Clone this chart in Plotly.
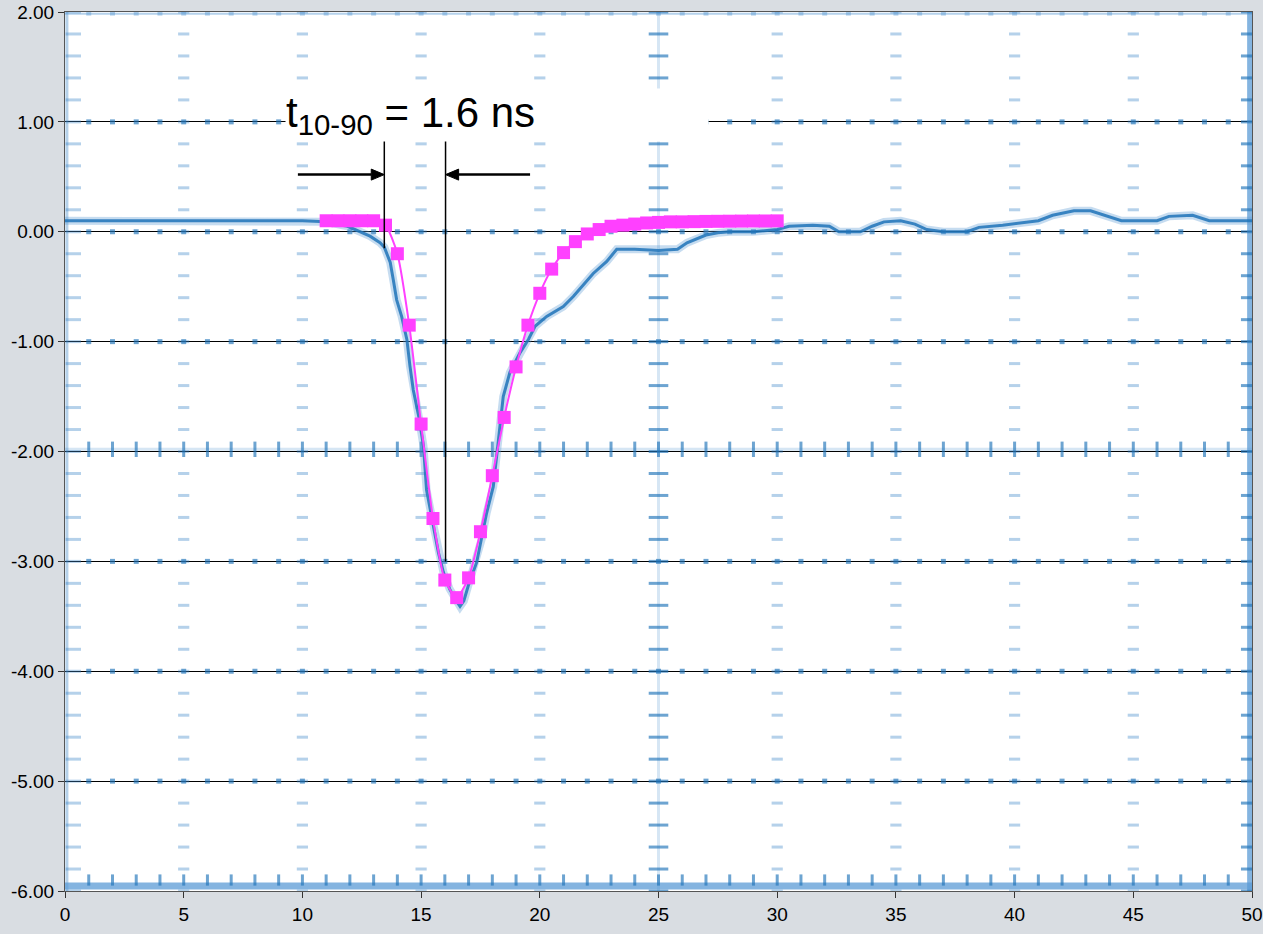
import numpy as np
import plotly.graph_objects as go

# Oscilloscope capture of the pulse (time in ns, amplitude in V)
scope_t = [0, 2, 4, 6, 8, 10, 11, 11.9, 12.85, 13.27, 13.45, 13.7, 13.83, 13.97,
           14.18, 14.4, 14.53, 14.67, 14.9, 15.1, 15.23, 15.5, 15.73, 15.94, 16.2,
           16.45, 16.64, 16.8, 16.99, 17.34, 17.55, 17.76, 18.04, 18.25, 18.46,
           18.74, 19.17, 19.52, 19.8, 20.29, 20.99, 21.41, 21.76, 22.25, 22.82,
           23.24, 24, 25, 25.8, 26.2, 27, 27.5, 28, 29, 30, 30.5, 31.5, 32.2, 32.6,
           33.5, 34, 34.5, 35.2, 35.8, 36.3, 37, 38, 38.5, 39.5, 40.3, 41, 41.6,
           42.5, 43.2, 43.8, 44.5, 46, 46.5, 47.5, 48.2, 49, 50]
scope_v = [0.1, 0.1, 0.1, 0.1, 0.1, 0.1, 0.09, 0.05, -0.04, -0.1, -0.14, -0.28,
           -0.44, -0.62, -0.77, -0.98, -1.22, -1.44, -1.68, -1.95, -2.35, -2.65,
           -2.92, -3.1, -3.25, -3.35, -3.41, -3.36, -3.22, -3.01, -2.8, -2.56,
           -2.32, -1.9, -1.5, -1.28, -1.1, -0.98, -0.86, -0.77, -0.68, -0.59, -0.5,
           -0.38, -0.27, -0.16, -0.16, -0.17, -0.16, -0.1, -0.03, -0.01, 0.0, 0.0,
           0.02, 0.05, 0.06, 0.05, 0.0, 0.0, 0.05, 0.09, 0.1, 0.07, 0.02, 0.0, 0.0,
           0.04, 0.06, 0.08, 0.1, 0.15, 0.19, 0.19, 0.15, 0.1, 0.1, 0.14, 0.15,
           0.1, 0.1, 0.1]

# Model pulse sampled every 0.5 ns
fit_t = [11, 11.5, 12, 12.5, 13, 13.5, 14, 14.5, 15, 15.5, 16, 16.5, 17, 17.5,
         18, 18.5, 19, 19.5, 20, 20.5, 21, 21.5, 22, 22.5, 23, 23.5, 24, 24.5,
         25, 25.5, 26, 26.5, 27, 27.5, 28, 28.5, 29, 29.5, 30]
fit_v = [0.1, 0.1, 0.1, 0.1, 0.1, 0.06, -0.2, -0.85, -1.75, -2.61, -3.17, -3.33,
         -3.15, -2.73, -2.22, -1.69, -1.23, -0.85, -0.56, -0.34, -0.19, -0.09,
         -0.02, 0.02, 0.05, 0.06, 0.07, 0.08, 0.085, 0.09, 0.09, 0.092, 0.094,
         0.095, 0.096, 0.097, 0.098, 0.098, 0.099]

x_ticks = [0, 5, 10, 15, 20, 25, 30, 35, 40, 45, 50]
y_ticks = [-6, -5, -4, -3, -2, -1, 0, 1, 2]

# Rise-time cursors
cursor_t = [13.45, 16.03]
cursor_top = 0.85
cursor_bottom = [-0.15, -3.0]
arrow_level = 0.52
arrow_tails = [9.81, 19.59]

PINK = "#FF40FF"
fig = go.Figure()

# --- scope graticule (background) ---
GR = "rgba(60,135,200,0.38)"
GR_DARK = "rgba(30,115,185,0.65)"
GR_FAINT = "rgba(91,155,213,0.25)"
fine_y = [v for v in np.round(np.arange(-6, 2.001, 0.2), 2)]
unit_x = list(range(1, 50))


def add(**kw):
    kw.setdefault("hoverinfo", "skip")
    kw.setdefault("showlegend", False)
    fig.add_trace(go.Scatter(**kw))


# vertical dotted graticule lines
for gx in [5, 10, 15, 20, 30, 35, 40, 45]:
    add(x=[gx] * len(fine_y), y=fine_y, mode="markers",
        marker=dict(symbol="line-ew", size=8, line=dict(width=3, color=GR)))
# centre vertical line
add(x=[25, 25], y=[-6, 2], mode="lines", line=dict(color=GR_FAINT, width=3))
add(x=[25] * len(fine_y), y=fine_y, mode="markers",
    marker=dict(symbol="line-ew", size=14, line=dict(width=3, color=GR_DARK)))
# horizontal dotted graticule lines
for gy in [1, 0, -1, -3, -4, -5]:
    add(x=unit_x, y=[gy] * len(unit_x), mode="markers",
        marker=dict(symbol="square", size=5, color=GR_DARK, line=dict(width=0)))
add(x=unit_x, y=[1.99] * len(unit_x), mode="markers",
    marker=dict(symbol="square", size=5, color=GR, line=dict(width=0)))
# centre horizontal line
add(x=[0, 50], y=[-1.98, -1.98], mode="lines", line=dict(color=GR_FAINT, width=3))
add(x=unit_x, y=[-1.98] * len(unit_x), mode="markers",
    marker=dict(symbol="line-ns", size=11, line=dict(width=3, color=GR_DARK)))
# screen edges
add(x=[0.08, 0.08], y=[-6, 2], mode="lines", line=dict(color=GR, width=3))
add(x=[0.35] * len(fine_y), y=fine_y, mode="markers",
    marker=dict(symbol="line-ew", size=11, line=dict(width=3, color=GR)))
add(x=[49.9, 49.9], y=[-6, 2], mode="lines",
    line=dict(color="rgba(91,155,213,0.75)", width=5))
add(x=[49.8] * len(fine_y), y=fine_y, mode="markers",
    marker=dict(symbol="line-ew", size=9, line=dict(width=3, color=GR_DARK)))
add(x=[0, 50], y=[-5.955, -5.955], mode="lines",
    line=dict(color="rgba(91,155,213,0.75)", width=7))
add(x=unit_x, y=[-5.9] * len(unit_x), mode="markers",
    marker=dict(symbol="line-ns", size=8, line=dict(width=3, color=GR_DARK)))
add(x=[0, 50], y=[1.985, 1.985], mode="lines",
    line=dict(color="rgba(91,155,213,0.45)", width=2))

# --- captured waveform ---
add(x=scope_t, y=scope_v, mode="lines",
    line=dict(color="rgba(91,155,213,0.35)", width=8))
add(x=scope_t, y=scope_v, mode="lines",
    line=dict(color="rgba(30,115,185,0.85)", width=3))

# --- model pulse ---
add(x=fit_t, y=fit_v, mode="lines+markers",
    line=dict(color=PINK, width=2, shape="spline", smoothing=0.6),
    marker=dict(symbol="square", size=13, color=PINK, line=dict(width=0)))

# cursors
for ct, cb in zip(cursor_t, cursor_bottom):
    fig.add_shape(type="line", x0=ct, x1=ct, y0=cursor_top, y1=cb,
                  line=dict(color="black", width=1.5), layer="above")

# arrows pointing at the cursors: shaft plus a filled triangular head
HEAD_LEN = 0.55   # ns
HEAD_HALF = 0.05  # V
for ct, tail in zip(cursor_t, arrow_tails):
    direction = 1 if tail < ct else -1
    base = ct - direction * HEAD_LEN
    fig.add_shape(type="line", x0=tail, x1=base, y0=arrow_level, y1=arrow_level,
                  line=dict(color="black", width=2.5), layer="above")
    fig.add_shape(type="path",
                  path=(f"M {ct} {arrow_level} L {base} {arrow_level + HEAD_HALF} "
                        f"L {base} {arrow_level - HEAD_HALF} Z"),
                  fillcolor="black", line=dict(color="black", width=1),
                  layer="above")

# rise-time label
fig.add_annotation(x=9.27, y=1.06, xref="x", yref="y", xanchor="left",
                   yanchor="middle", showarrow=False,
                   text="t<sub>10-90</sub> = 1.6 ns",
                   font=dict(family="Liberation Sans, Arial", size=42, color="black"),
                   bgcolor="white", width=422, height=52, align="left",
                   borderpad=0)

fig.update_layout(
    width=1263, height=934,
    margin=dict(l=65, r=11, t=12, b=43),
    paper_bgcolor="#D9DDE2", plot_bgcolor="white",
    font=dict(family="Liberation Sans, Arial", size=19, color="black"),
    showlegend=False,
)
fig.update_xaxes(range=[0, 50], tickvals=x_ticks, ticks="outside", ticklen=6,
                 tickcolor="#333", showgrid=False, zeroline=False, automargin=False,
                 showline=True, linecolor="#555", linewidth=1, mirror=True)
fig.update_yaxes(range=[-6, 2], tickvals=y_ticks,
                 ticktext=[f"{v:.2f}" for v in y_ticks], automargin=False,
                 ticks="outside", ticklen=6, tickcolor="#333",
                 showgrid=True, gridcolor="black", gridwidth=1, zeroline=False,
                 showline=True, linecolor="#555", linewidth=1, mirror=True)

assert len(scope_t) == len(scope_v)
fig.write_html("out.html")
